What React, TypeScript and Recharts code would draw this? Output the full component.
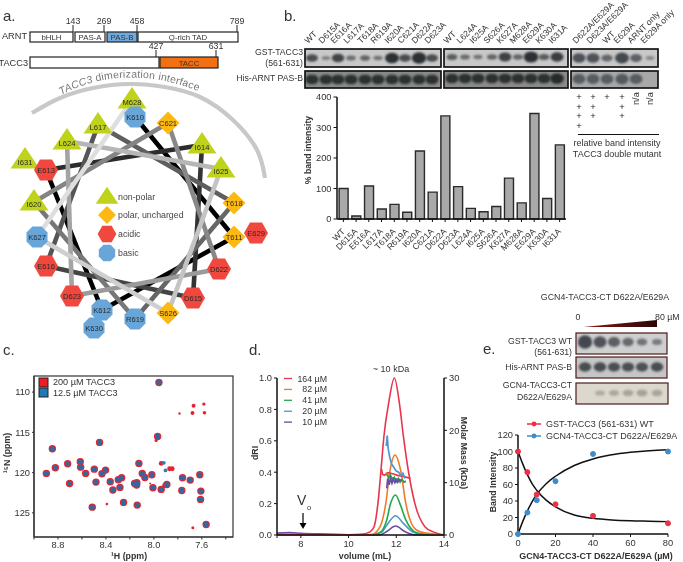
import React from "react";
import { BarChart, Bar, XAxis, YAxis, LineChart, Line, ScatterChart, Scatter, ZAxis } from "recharts";

const W = 683, H = 562;
const FONT = "'Liberation Sans', Arial, sans-serif";
const INK = "#333";

// ---------- panel a: helical wheel ----------
const wheelNames = ["M628","K610","C621","L617","I614","L624","I631","E613","I625","I620","T618","E629","T611","K627","E616","D622","D623","D615","K630","K612","R619","S626"];
const wheelX = [132,135,168,98,202,67,25,46,221,34,234,256,234,37,46,219,72,193,94,102,135,168];
const wheelY = [100,117,123,125,145,141,160,170,169,202,203,233,237,237,266,269,296,298,328,310,319,313];
const wheelKind = ["n","b","p","n","n","n","n","a","n","n","p","a","p","b","a","a","a","a","b","b","b","p"];
const helixOrder = ["K610","T611","K612","E613","I614","D615","E616","L617","T618","R619","I620","C621","D622","D623","L624","I625","S626","K627","M628"];
const helixGrays = ["#000","#000","#000","#2c2c2c","#333","#444","#555","#5e5e5e","#666","#777","#848484","#888","#9a9a9a","#a4a4a4","#b6b6b6","#c4c4c4","#cfcfcf","#dedede"];
const arcX = [32,60,93,130,165,200,233,257,265];
const arcY = [113,98,88,84,87,97,120,150,178];
const legendX = [107,107,107,107];
const legendY = [197,215,234,253];
const legendKinds = ["n","p","a","b"];
const legendNames = ["non-polar","polar, uncharged","acidic","basic"];

// ---------- panel b ----------
const mutants = ["WT","D615A","E616A","L617A","T618A","R619A","I620A","C621A","D622A","D623A","L624A","I625A","S626A","K627A","M628A","E629A","K630A","I631A"];
const bandIntensity = [100,10,108,33,48,22,223,88,338,106,35,24,41,134,53,346,67,243];
const laneX1 = [312,326,338,351,365,378,392,405,419,432];
const laneNames1 = ["WT","D615A","E616A","L617A","T618A","R619A","I620A","C621A","D622A","D623A"];
const tacc1 = [.65,.12,.75,.28,.38,.2,1,.65,1.15,.65];
const arnt1 = [.85,.85,.85,.85,.85,.85,.85,.85,.85,.85];
const laneX2 = [452,465,478,492,505,518,531,544,557];
const laneNames2 = ["WT","L624A","I625A","S626A","K627A","M628A","E629A","K630A","I631A"];
const tacc2 = [.45,.3,.2,.35,.8,.35,1.1,.45,.85];
const arnt2 = [.85,.85,.85,.85,.85,.85,.85,.85,.95];
const laneX3 = [579,593,607,622,636,650];
const laneNames3 = ["D622A/E629A","D623A/E629A","WT","E629A","ARNT only","E629A only"];
const laneLabelX3 = [576,590,606,617,631,644];
const tacc3 = [.85,.85,.55,1,.65,.12];
const arnt3 = [.8,.8,.8,.85,.8,0];
const plusCounts = [4,3,1,3];

// ---------- panel c: NMR peaks ----------
const peakH = [7.958,7.969,8.453,8.847,8.719,8.614,8.611,8.822,8.897,8.569,8.497,8.483,8.703,8.433,8.403,8.364,8.342,8.283,8.297,8.269,8.125,8.097,8.075,8.142,8.161,8.144,8.017,8.008,7.939,7.892,7.761,7.767,7.697,7.617,7.608,7.611,8.253,8.514,8.139,7.564];
const peakN = [108.8,115.51,116.25,117.04,118.9,118.65,119.32,119.4,120.1,120.1,119.57,121.18,121.35,120.15,119.69,121.14,122.17,121.84,120.89,120.64,118.86,120.1,120.6,121.26,121.35,121.55,120.27,121.88,122.09,121.47,120.64,122.22,120.93,120.27,122.3,123.33,123.7,124.29,124.04,126.44];
const redOnlyH = [7.669,7.583,7.678,7.578,7.786,7.675,8.392,7.939,7.869,7.847,7.981,8.031,7.911];
const redOnlyN = [111.7,111.49,112.61,112.57,112.65,126.85,123.91,118.86,119.52,119.52,116.0,121.35,121.6];
const redOnlyR = [2,1.7,2,1.8,1.2,1.5,1.3,2.4,2.4,2.4,1.6,1,2.4];
const blueOnlyH = [7.917,7.903];
const blueOnlyN = [118.78,119.73];
const nmrTicksH = [9.0,8.8,8.6,8.4,8.2,8.0,7.8,7.6,7.4];
const nmrLabelH = [8.8,8.4,8.0,7.6];
const nmrTicksN = [110,115,120,125];

// ---------- panel d: SEC traces ----------
const vol164 = [7,8,9,10,10.5,10.9,11.07,11.23,11.36,11.48,11.68,11.92,12.13,12.3,12.5,12.78,13.2,13.55,14];
const dri164 = [0.004,0.004,0.003,0.002,0.004,0.02,0.053,0.2,0.414,0.626,0.84,1,0.84,0.626,0.414,0.2,0.053,0.02,0];
const vol82 = [7,9,10.5,11,11.32,11.56,11.74,11.95,12.18,12.4,12.71,13,14];
const dri82 = [0.002,0.002,0.001,0.005,0.053,0.2,0.414,0.51,0.414,0.2,0.053,0.02,0];
const vol41 = [7,9,10.5,11,11.35,11.6,11.76,11.97,12.15,12.4,12.78,13.2,14];
const dri41 = [0.002,0.002,0,0.002,0.02,0.096,0.2,0.255,0.2,0.096,0.02,0.004,0];
const vol20 = [7,9,10.5,11,11.39,11.65,11.97,12.3,12.71,13.2,14];
const dri20 = [0.003,0.002,0,0.001,0.018,0.074,0.123,0.074,0.018,0.003,0];
const vol10 = [7,7.5,8,9,10,11,11.3,11.6,11.97,12.36,12.78,14];
const dri10 = [0.012,0.016,0.011,0.006,0.002,0,0.001,0.022,0.057,0.022,0.001,0];
const concLabels = ["164 µM","82 µM","41 µM","20 µM","10 µM"];
const concColors = ["#e8344e","#ee7a2f","#1fa84f","#4f97cf","#6a4ca0"];
const massVol164 = [11.38,11.42,11.5,11.65,11.85,12.05,12.3,12.6];
const mass164 = [12.6,11.6,11.4,11.9,11.7,11.4,11.2,10.8];
const massVol82 = [11.55,11.7,11.85,12,12.2,12.4];
const mass82 = [11.9,11.3,10.9,10.7,10.4,10.1];
const massVol41 = [11.6,11.68,11.76,11.84,11.92,12,12.08,12.16,12.24,12.32,12.4];
const mass41 = [11.6,10.9,11.4,10.5,11,10.2,10.8,10.1,10.6,10.1,10.3];
const massVol20 = [11.58,11.62,11.66,11.72,11.8,11.9,12,12.1,12.2,12.28,12.36];
const mass20 = [17,19,16.5,15,13.6,12.9,12.2,12,11.3,11.8,10.8];
const massVol10 = [11.6,11.64,11.7,11.76,11.82,11.88,11.94,12,12.06,12.12,12.2];
const mass10 = [8.9,10.8,9.6,10.8,9.9,10.7,10,10.6,10.1,10.6,10.4];

// ---------- panel e ----------
const doseX = [0,5,10,20,40,80];
const gstBand = [100,75,48,36,22,13];
const gcnBand = [0,26,41,64,97,100];
const fitX = [0,2.5,5,7.5,10,15,20,30,40,50,60,70,80];
const fitGst = [100,85,72,61,53,41,33,23,19,17,16,15.5,15];
const fitGcn = [0,15,28,39,48,61,70,83,91,96,99,101,102];
const eLanes = [585,600,614,628,642,657];
const eGst = [1.05,.85,.7,.55,.42,.32];
const eArnt = [.75,.75,.72,.72,.7,.75];
const eGcn = [0,.3,.38,.45,.5,.45];

const rows = (a: number[], b: number[]) => a.map((x, i) => ({ x, y: b[i] }));
const wheelData = wheelNames.map((name, i) => ({ x: wheelX[i], y: wheelY[i], name, kind: wheelKind[i] }));
const helixPairs = helixGrays.map((stroke, i) => {
  const from = wheelData.find(d => d.name === helixOrder[i])!;
  const to = wheelData.find(d => d.name === helixOrder[i + 1])!;
  return { stroke, pts: [{ x: from.x, y: from.y }, { x: to.x, y: to.y }] };
});
const legendData = legendX.map((x, i) => ({ x, y: legendY[i], name: "", kind: legendKinds[i], big: true }));
const bars = mutants.map((name, i) => ({ name, v: bandIntensity[i] }));
const massRows = (v: number[], m: number[]) => v.map((x, i) => ({ v: x, m: m[i] }));
const driSeries = [
  { c: concColors[4], d: massRows(vol10, dri10) },
  { c: concColors[3], d: massRows(vol20, dri20) },
  { c: concColors[2], d: massRows(vol41, dri41) },
  { c: concColors[1], d: massRows(vol82, dri82) },
  { c: concColors[0], d: massRows(vol164, dri164) },
];
const massSeries = [
  { c: concColors[0], d: massRows(massVol164, mass164) },
  { c: concColors[1], d: massRows(massVol82, mass82) },
  { c: concColors[3], d: massRows(massVol20, mass20) },
  { c: concColors[2], d: massRows(massVol41, mass41) },
  { c: concColors[4], d: massRows(massVol10, mass10) },
];

const Noop = () => <g />;

const kindFill: Record<string, string> = { n: "#bfd31c", p: "#fdb913", a: "#f0483e", b: "#68a5d9" };
const WheelNode = (p: any) => {
  const { cx, cy, payload } = p;
  const fill = kindFill[payload.kind];
  const s = payload.big ? 0.78 : 1;
  let shape;
  if (payload.kind === "n") {
    const w = 14.5 * s, up = 13 * s, dn = 8.5 * s;
    shape = <polygon points={`${cx},${cy - up} ${cx + w},${cy + dn} ${cx - w},${cy + dn}`} fill={fill} />;
  } else if (payload.kind === "p") {
    const r = 11.5 * s;
    shape = <polygon points={`${cx},${cy - r} ${cx + r},${cy} ${cx},${cy + r} ${cx - r},${cy}`} fill={fill} />;
  } else if (payload.kind === "a") {
    const w = 12 * s, h = 10.5 * s, q = 6 * s;
    shape = <polygon points={`${cx - w},${cy} ${cx - q},${cy - h} ${cx + q},${cy - h} ${cx + w},${cy} ${cx + q},${cy + h} ${cx - q},${cy + h}`} fill={fill} />;
  } else {
    const r = 10.5 * s, q = 4.6 * s;
    shape = <polygon points={`${cx - q},${cy - r} ${cx + q},${cy - r} ${cx + r},${cy - q} ${cx + r},${cy + q} ${cx + q},${cy + r} ${cx - q},${cy + r} ${cx - r},${cy + q} ${cx - r},${cy - q}`} fill={fill} />;
  }
  return (
    <g>
      {shape}
      {payload.name ? (
        <text x={cx} y={cy + (payload.kind === "n" ? 5 : 2.7)} textAnchor="middle" fontSize={7.6} fontFamily={FONT} fill="#2a2a2a">{payload.name}</text>
      ) : null}
    </g>
  );
};

const bandRows = (xs: number[], ints: number[], y: number) => xs.map((x, i) => ({ x, y, i: ints[i] }));
const BandShape = (fill: string, maxRy: number) => (p: any) => {
  const { cx, cy, payload } = p;
  if (!payload.i) return <g />;
  const rx = 4 + 3 * Math.min(payload.i, 1.1);
  const ry = 1.4 + maxRy * payload.i;
  return <ellipse cx={cx} cy={cy} rx={rx} ry={ry} fill={fill} opacity={0.42 + 0.52 * Math.min(payload.i, 1)} filter="url(#blotBlur)" />;
};

const T = ({ x, y, children, anchor = "start", size = 9, weight, rot, fill = INK, italic }: any) => (
  <text x={x} y={y} textAnchor={anchor} fontSize={size} fontWeight={weight} fontStyle={italic ? "italic" : undefined} fill={fill} fontFamily={FONT}
    transform={rot !== undefined ? `rotate(${rot} ${x} ${y})` : undefined}>{children}</text>
);

const BlotBox = ({ x, y, w, h, bg = "#c8c8c8", stroke = "#151515", sw = 1.7 }: any) => (
  <rect x={x} y={y} width={w} height={h} fill={bg} stroke={stroke} strokeWidth={sw} />
);

const Box = ({ x, y, w, h, fill = "#fff", label, sw = 1.2 }: any) => (
  <g>
    <rect x={x} y={y} width={w} height={h} fill={fill} stroke="#222" strokeWidth={sw} />
    {label ? <T x={x + w / 2} y={y + h - 2.4} anchor="middle" size={7.8}>{label}</T> : null}
  </g>
);

const layer: React.CSSProperties = { position: "absolute", left: 0, top: 0, willChange: "transform" };
const tickStyle = { fontSize: 9.3, fill: INK, fontFamily: FONT };
const axisStroke = { stroke: "#111", strokeWidth: 1.5 };

const RotTick = (p: any) => (
  <text x={p.x + 2} y={p.y + 8} textAnchor="end" fontSize={8.6} fontFamily={FONT} fill={INK} transform={`rotate(-45 ${p.x + 2} ${p.y + 8})`}>{p.payload.value}</text>
);

export default function App() {
  return (
    <div style={{ position: "absolute", left: 0, top: 0, width: W, height: H, background: "#fff", overflow: "hidden" }}>
      <svg width={W} height={H} style={layer}>
        <defs>
          <filter id="blotBlur" x="-40%" y="-60%" width="180%" height="220%"><feGaussianBlur stdDeviation="1.2" /></filter>
          <linearGradient id="wedge" x1="0" x2="1" y1="0" y2="0">
            <stop offset="0" stopColor="#8a1a1a" /><stop offset="1" stopColor="#2a0606" />
          </linearGradient>
        </defs>

        {/* panel labels */}
        <T x={3} y={21} size={15}>a.</T>
        <T x={284} y={21} size={15}>b.</T>
        <T x={3} y={355} size={15}>c.</T>
        <T x={249} y={355} size={15}>d.</T>
        <T x={483} y={354} size={15}>e.</T>

        {/* panel a: domains */}
        <Box x={30} y={32} w={43} h={10} label="bHLH" />
        <Box x={75} y={32} w={30} h={10} label="PAS-A" />
        <Box x={107} y={32} w={30} h={10} fill="#72a9dc" label="PAS-B" />
        <Box x={138} y={32} w={100} h={10} label="Q-rich TAD" />
        <Box x={30} y={57} w={129} h={11} />
        <Box x={160} y={57} w={58} h={11} fill="#f26f12" label="TACC" />
        {[[73, 25, 32, "143"], [104, 25, 32, "269"], [137, 25, 32, "458"], [237, 25, 32, "789"], [156, 50, 57, "427"], [216, 50, 57, "631"]].map((t: any) => (
          <g key={t[3]}>
            <line x1={t[0]} x2={t[0]} y1={t[1]} y2={t[2]} stroke="#222" strokeWidth={1} />
            <T x={t[0]} y={t[1] - 1} anchor="middle" size={8.8}>{t[3]}</T>
          </g>
        ))}
        <T x={27} y={39} anchor="end" size={9.2}>ARNT</T>
        <T x={28} y={66} anchor="end" size={9.2}>TACC3</T>
        <path id="arcText" d="M 61 95 Q 132 58 216 99" fill="none" />
        <text fontSize={10.4} fontFamily={FONT} fill="#777" letterSpacing={0.25}>
          <textPath href="#arcText"><tspan fontStyle="italic">TACC3</tspan> dimerization interface</textPath>
        </text>
        {legendNames.map((n, i) => <T key={n} x={118} y={legendY[i] + 3} size={8.8} fill="#444">{n}</T>)}

        {/* panel b: labels and membranes */}
        <T x={303} y={55} anchor="end" size={8.7}>GST-TACC3</T>
        <T x={303} y={66} anchor="end" size={8.7}>(561-631)</T>
        <T x={303} y={81} anchor="end" size={8.7}>His-ARNT PAS-B</T>
        <BlotBox x={305} y={49} w={136} h={18} />
        <BlotBox x={305} y={71} w={136} h={17} bg="#8a8a8a" />
        <BlotBox x={444} y={49} w={124} h={18} />
        <BlotBox x={444} y={71} w={124} h={17} bg="#8a8a8a" />
        <BlotBox x={571} y={49} w={87} h={18} />
        <BlotBox x={571} y={71} w={87} h={17} bg="#a8a8a8" />
        {laneNames1.map((n, i) => <T key={n} x={laneX1[i] - 4} y={44} size={8.6} rot={-45}>{n}</T>)}
        {laneNames2.map((n, i) => <T key={"b" + n} x={laneX2[i] - 5} y={44} size={8.6} rot={-45}>{n}</T>)}
        {laneNames3.map((n, i) => <T key={n} x={laneLabelX3[i]} y={44} size={8.6} rot={-45}>{n}</T>)}
        {plusCounts.map((c, i) => Array.from({ length: c }).map((_, j) => (
          <T key={`${i}-${j}`} x={laneX3[i]} y={100 + j * 9.6} anchor="middle" size={9.4} fill="#222">+</T>
        )))}
        <T x={639} y={105} anchor="start" size={9.2} rot={-90}>n/a</T>
        <T x={653} y={105} anchor="start" size={9.2} rot={-90}>n/a</T>
        <line x1={578} x2={659} y1={134.5} y2={134.5} stroke="#111" strokeWidth={1.2} />
        <T x={617} y={146} anchor="middle" size={9}>relative band intensity</T>
        <T x={617} y={157} anchor="middle" size={9}>TACC3 double mutant</T>
        <T x={311} y={150} anchor="middle" size={8.6} weight="bold" rot={-90}>% band intensity</T>

        {/* panel c */}
        <rect x={34} y={376} width={199} height={161} fill="#fff" stroke="#333" strokeWidth={1.2} />
        <rect x={39} y={378} width={9} height={9} fill="#ee1c25" stroke="#222" strokeWidth={1} />
        <rect x={39} y={388} width={9} height={9} fill="#1f78b4" stroke="#222" strokeWidth={1} />
        <T x={53} y={385} size={9.1}>200 µM TACC3</T>
        <T x={53} y={396} size={9.1}>12.5 µM TACC3</T>
        <T x={10} y={453} anchor="middle" size={8.8} weight="bold" rot={-90}>¹⁵N (ppm)</T>
        <T x={129} y={559} anchor="middle" size={8.8} weight="bold">¹H (ppm)</T>

        {/* panel d */}
        <T x={391} y={372} anchor="middle" size={9}>~ 10 kDa</T>
        {concLabels.map((n, i) => (
          <g key={n}>
            <line x1={284} x2={292} y1={378.5 + i * 10.9} y2={378.5 + i * 10.9} stroke={concColors[i]} strokeWidth={1.3} />
            <T x={327} y={381.5 + i * 10.9} anchor="end" size={8.8}>{n}</T>
          </g>
        ))}
        <T x={297} y={505} size={14}>V</T>
        <T x={307} y={510} size={7.5}>o</T>
        <line x1={303} x2={303} y1={513} y2={525} stroke="#000" strokeWidth={1.2} />
        <polygon points="299.5,523 306.5,523 303,529" fill="#000" />
        <T x={258} y={453} anchor="middle" size={8.8} weight="bold" rot={-90}>dRI</T>
        <T x={365} y={559} anchor="middle" size={8.8} weight="bold">volume (mL)</T>
        <T x={461} y={453} anchor="middle" size={8.8} weight="bold" rot={90}>Molar Mass (kDa)</T>

        {/* panel e */}
        <T x={605} y={300} anchor="middle" size={8.8}>GCN4-TACC3-CT D622A/E629A</T>
        <T x={578} y={320} anchor="middle" size={8.8}>0</T>
        <T x={655} y={320} size={8.8}>80 µM</T>
        <polygon points="583,327 657,320 657,327" fill="url(#wedge)" />
        <T x={572} y={344} anchor="end" size={8.7}>GST-TACC3 WT</T>
        <T x={572} y={355} anchor="end" size={8.7}>(561-631)</T>
        <T x={572} y={370} anchor="end" size={8.7}>His-ARNT PAS-B</T>
        <T x={572} y={388} anchor="end" size={8.7}>GCN4-TACC3-CT</T>
        <T x={572} y={400} anchor="end" size={8.7}>D622A/E629A</T>
        <BlotBox x={576} y={333} w={91} h={21} bg="#cfcfcf" stroke="#4a1c1c" sw={1.2} />
        <BlotBox x={576} y={357} w={91} h={21} bg="#c6c6c6" stroke="#4a1c1c" sw={1.2} />
        <BlotBox x={576} y={383} w={92} h={21} bg="#dcd8cd" stroke="#4a1c1c" sw={1.2} />
        {[{ c: "#ee2f46", y: 424, n: "GST-TACC3 (561-631) WT" }, { c: "#3f8cc9", y: 436, n: "GCN4-TACC3-CT D622A/E629A" }].map(l => (
          <g key={l.n}>
            <line x1={527} x2={541} y1={l.y} y2={l.y} stroke={l.c} strokeWidth={1.5} />
            <circle cx={534} cy={l.y} r={2.4} fill={l.c} />
            <T x={546} y={l.y + 3} size={9}>{l.n}</T>
          </g>
        ))}
        <T x={496} y={482} anchor="middle" size={8.8} weight="bold" rot={-90}>Band Intensity</T>
        <T x={596} y={559} anchor="middle" size={9} weight="bold">GCN4-TACC3-CT D622A/E629A (µM)</T>
      </svg>

      {/* schematic marks placed on a page-sized scale */}
      <div style={layer}>
        <ScatterChart width={W} height={H} margin={{ top: 0, right: 0, bottom: 0, left: 0 }}>
          <XAxis type="number" dataKey="x" domain={[0, W]} hide allowDataOverflow />
          <YAxis type="number" dataKey="y" domain={[0, H]} reversed hide allowDataOverflow />
          <Scatter data={rows(arcX, arcY)} isAnimationActive={false} shape={Noop} line={{ stroke: "#c8c8c8", strokeWidth: 4.2 }} lineJointType="natural" />
          {helixPairs.map((h, i) => (
            <Scatter key={i} data={h.pts} isAnimationActive={false} shape={Noop} line={{ stroke: h.stroke, strokeWidth: 4.6 }} />
          ))}
          <Scatter data={wheelData} isAnimationActive={false} shape={WheelNode} />
          <Scatter data={legendData} isAnimationActive={false} shape={WheelNode} />
          <Scatter data={bandRows(laneX1, tacc1, 58)} isAnimationActive={false} shape={BandShape("#22282c", 3.8)} />
          <Scatter data={bandRows(laneX2, tacc2, 57)} isAnimationActive={false} shape={BandShape("#22282c", 3.8)} />
          <Scatter data={bandRows(laneX3, tacc3, 58)} isAnimationActive={false} shape={BandShape("#3a4046", 4)} />
          <Scatter data={bandRows(laneX1, arnt1, 79.5)} isAnimationActive={false} shape={BandShape("#1c2024", 4)} />
          <Scatter data={bandRows(laneX2, arnt2, 78.5)} isAnimationActive={false} shape={BandShape("#1c2024", 4)} />
          <Scatter data={bandRows(laneX3, arnt3, 79)} isAnimationActive={false} shape={BandShape("#474d52", 4.4)} />
          <Scatter data={bandRows(eLanes, eGst, 342)} isAnimationActive={false} shape={BandShape("#3a4046", 5)} />
          <Scatter data={bandRows(eLanes, eArnt, 367)} isAnimationActive={false} shape={BandShape("#2a3034", 4.4)} />
          <Scatter data={bandRows(eLanes, eGcn, 393)} isAnimationActive={false} shape={BandShape("#8d897e", 4)} />
        </ScatterChart>
      </div>

      {/* panel b bars */}
      <div style={layer}>
        <BarChart width={W} height={H} data={bars} barCategoryGap={2.1} margin={{ top: 97, left: 307, right: 117, bottom: 303 }}>
          <XAxis dataKey="name" interval={0} height={40} tick={RotTick} tickLine={{ stroke: "#111" }} tickSize={3} axisLine={axisStroke} />
          <YAxis width={30} domain={[0, 400]} ticks={[0, 100, 200, 300, 400]} tick={tickStyle} tickSize={3.5} tickLine={{ stroke: "#111" }} axisLine={axisStroke} />
          <Bar dataKey="v" fill="#a9a9a9" stroke="#2a2a2a" strokeWidth={1.4} isAnimationActive={false} />
        </BarChart>
      </div>

      {/* panel c NMR */}
      <div style={layer}>
        <ScatterChart width={W} height={H} margin={{ top: 376, left: 4, right: 450, bottom: 5 }}>
          <XAxis type="number" dataKey="x" domain={[7.34, 9.0]} reversed allowDataOverflow height={20} ticks={nmrTicksH} interval={0}
            tickFormatter={(v: number) => (nmrLabelH.includes(v) ? v.toFixed(1) : "")} tick={tickStyle} tickSize={2.5} tickLine={{ stroke: "#333" }} axisLine={{ stroke: "#333", strokeWidth: 1.2 }} />
          <YAxis type="number" dataKey="y" domain={[108, 128]} reversed allowDataOverflow width={30} ticks={nmrTicksN} tick={tickStyle} tickSize={2} tickLine={{ stroke: "#333" }} axisLine={{ stroke: "#333", strokeWidth: 1.2 }} />
          <ZAxis range={[10, 10]} />
          <Scatter data={rows(peakH, peakN)} isAnimationActive={false} shape={(p: any) => <circle cx={p.cx} cy={p.cy} r={3.7} fill="#ea2230" />} />
          <Scatter data={redOnlyH.map((x, i) => ({ x, y: redOnlyN[i], r: redOnlyR[i] }))} isAnimationActive={false} shape={(p: any) => <circle cx={p.cx} cy={p.cy} r={p.payload.r} fill="#ea2230" />} />
          <Scatter data={rows(peakH, peakN)} isAnimationActive={false} shape={(p: any) => <circle cx={p.cx} cy={p.cy} r={2.6} fill="#33689f" />} />
          <Scatter data={rows(blueOnlyH, blueOnlyN)} isAnimationActive={false} shape={(p: any) => <circle cx={p.cx} cy={p.cy} r={1.9} fill="#2f7fbd" />} />
        </ScatterChart>
      </div>

      {/* panel d SEC */}
      <div style={layer}>
        <LineChart width={W} height={H} margin={{ top: 378, left: 247, right: 219, bottom: 7 }}>
          <XAxis type="number" dataKey="v" domain={[7, 14]} ticks={[7, 8, 10, 12, 14]} interval={0} tickFormatter={(v: number) => (v === 7 ? "" : String(v))} allowDataOverflow height={20} tick={tickStyle} tickSize={3} tickLine={{ stroke: "#111" }} axisLine={axisStroke} />
          <YAxis yAxisId="l" width={30} domain={[0, 1]} ticks={[0, 0.2, 0.4, 0.6, 0.8, 1]} tickFormatter={(v: number) => v.toFixed(1)} tick={tickStyle} tickSize={3} tickLine={{ stroke: "#111" }} axisLine={axisStroke} />
          <YAxis yAxisId="r" orientation="right" width={20} domain={[0, 30]} ticks={[0, 10, 20, 30]} tick={tickStyle} tickSize={3} tickLine={{ stroke: "#111" }} axisLine={axisStroke} />
          {driSeries.map((s, i) => (
            <Line key={i} yAxisId="l" data={s.d} dataKey="m" type="monotone" dot={false} stroke={s.c} strokeWidth={1.6} isAnimationActive={false} />
          ))}
          {massSeries.map((s, i) => (
            <Line key={"m" + i} yAxisId="r" data={s.d} dataKey="m" type="linear" dot={false} stroke={s.c} strokeWidth={1.7} isAnimationActive={false} />
          ))}
        </LineChart>
      </div>

      {/* panel e binding curves */}
      <div style={layer}>
        <LineChart width={W} height={H} margin={{ top: 435, left: 488, right: 15, bottom: 8 }}>
          <XAxis type="number" dataKey="x" domain={[0, 80]} ticks={[0, 20, 40, 60, 80]} height={20} tick={tickStyle} tickSize={3} tickLine={{ stroke: "#111" }} axisLine={axisStroke} />
          <YAxis width={30} domain={[0, 120]} ticks={[0, 20, 40, 60, 80, 100, 120]} tick={tickStyle} tickSize={3} tickLine={{ stroke: "#111" }} axisLine={axisStroke} />
          <Line data={rows(fitX, fitGst)} dataKey="y" type="monotone" dot={false} stroke="#111" strokeWidth={1.5} isAnimationActive={false} />
          <Line data={rows(fitX, fitGcn)} dataKey="y" type="monotone" dot={false} stroke="#111" strokeWidth={1.5} isAnimationActive={false} />
          <Line data={rows(doseX, gcnBand)} dataKey="y" stroke="none" dot={{ r: 2.5, fill: "#3f8cc9", stroke: "#3f8cc9", clipDot: false }} isAnimationActive={false} />
          <Line data={rows(doseX, gstBand)} dataKey="y" stroke="none" dot={{ r: 2.5, fill: "#ee2f46", stroke: "#ee2f46", clipDot: false }} isAnimationActive={false} />
        </LineChart>
      </div>
    </div>
  );
}
